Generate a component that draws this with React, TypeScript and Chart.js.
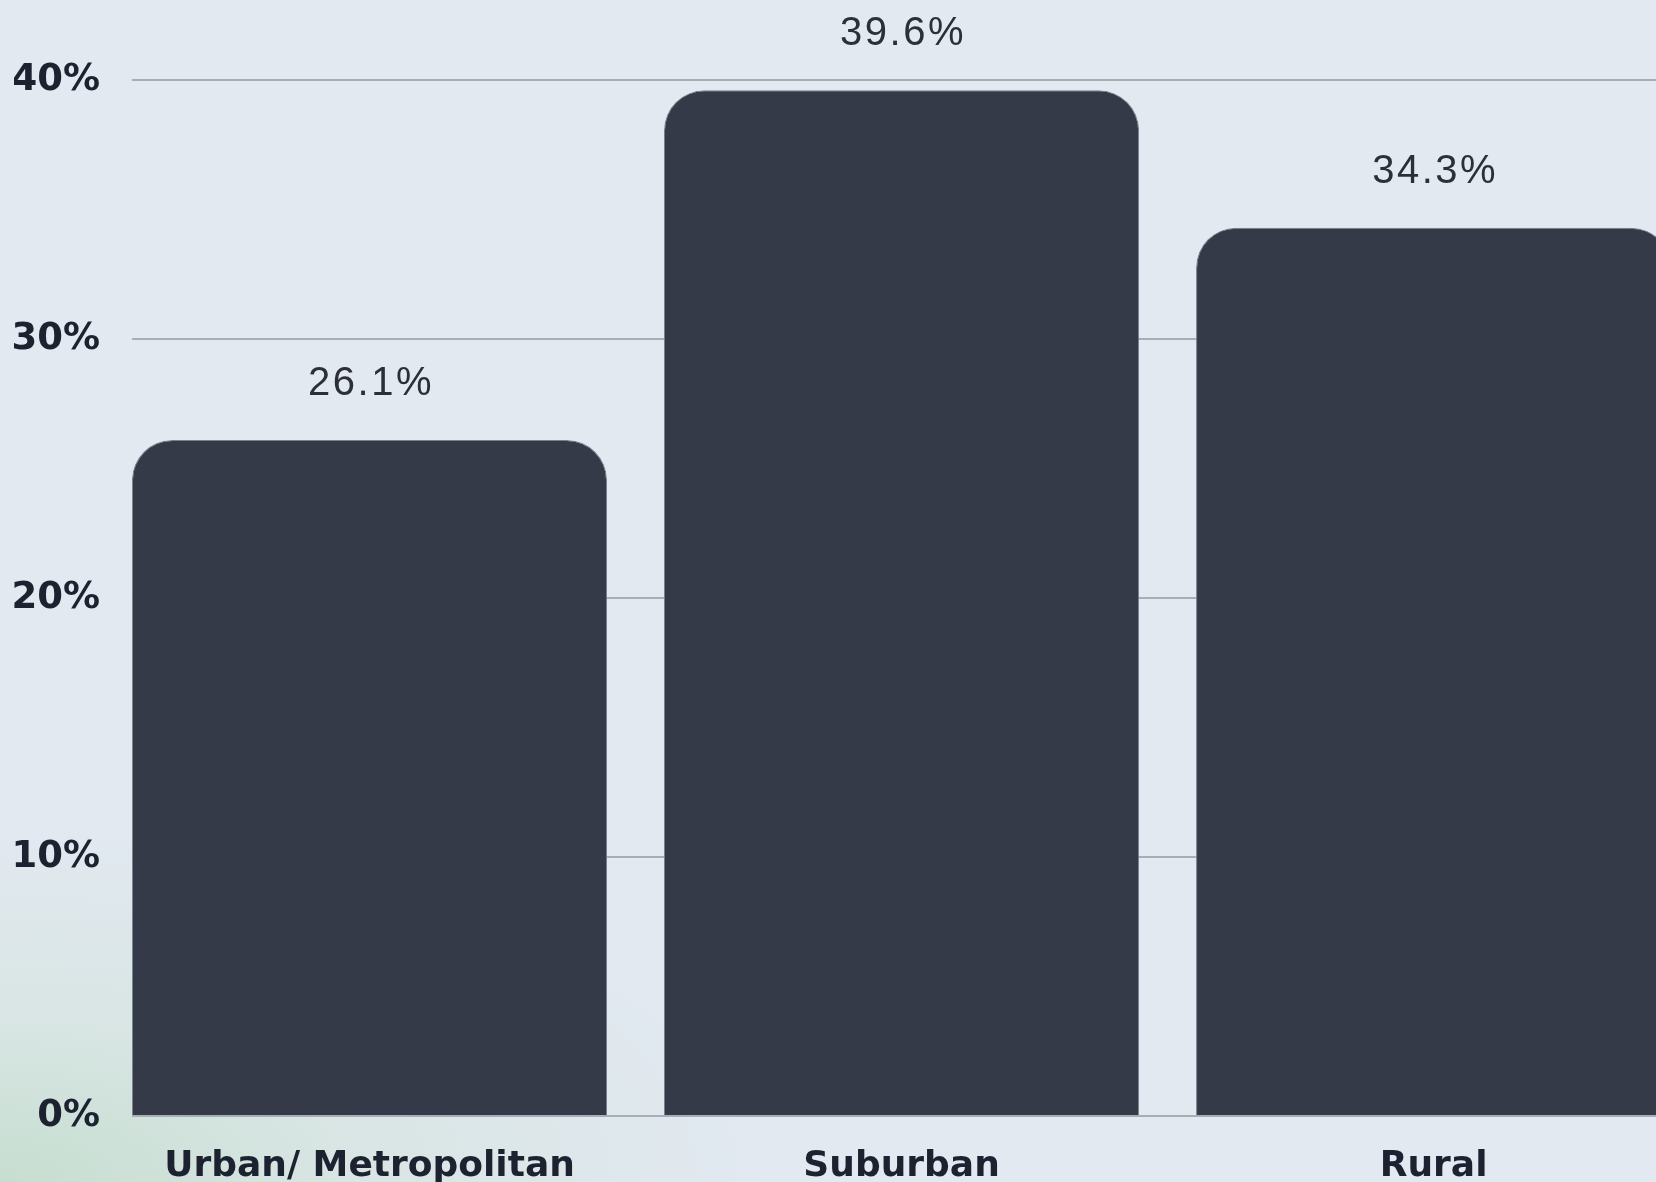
import React, { useEffect, useRef } from 'react';
import { Chart, registerables } from 'chart.js';

Chart.register(...registerables);

const categories = ['Urban/ Metropolitan', 'Suburban', 'Rural'];
const positions = [0, 1, 2];
const values = [26.1, 39.6, 34.3];
const yTicks = [0, 10, 20, 30, 40];

export default function App() {
  const ref = useRef<HTMLCanvasElement>(null);

  useEffect(() => {
    const valueLabels = {
      id: 'valueLabels',
      afterDatasetsDraw(chart: any) {
        const ctx = chart.ctx;
        const meta = chart.getDatasetMeta(0);
        ctx.save();
        ctx.font = '40px "Liberation Sans", Arial, sans-serif';
        (ctx as any).letterSpacing = '2.5px';
        ctx.fillStyle = '#2b2f38';
        ctx.textAlign = 'center';
        ctx.textBaseline = 'middle';
        meta.data.forEach((bar: any, i: number) => {
          ctx.fillText(values[i].toFixed(1) + '%', bar.x + 1.5, bar.y - 56);
        });
        ctx.restore();
      },
    };

    const chart = new Chart(ref.current!, {
      type: 'bar',
      data: {
        datasets: [
          {
            data: positions.map((x, i) => ({ x, y: values[i] })),
            backgroundColor: '#343a47',
            borderColor: '#7a808b',
            borderWidth: 1,
            borderSkipped: 'start',
            borderRadius: { topLeft: 40, topRight: 40, bottomLeft: 0, bottomRight: 0 },
            categoryPercentage: 1,
            barPercentage: 0.893,
          } as any,
        ],
      },
      options: {
        animation: false,
        responsive: true,
        maintainAspectRatio: false,
        layout: { padding: { top: 80, left: 14, right: 0, bottom: 0 } },
        plugins: { legend: { display: false }, tooltip: { enabled: false } },
        scales: {
          x: {
            type: 'linear',
            offset: false,
            min: -0.4464,
            max: 2.418,
            grid: { display: false, drawTicks: false },
            border: { display: false },
            afterBuildTicks: (s: any) => {
              s.ticks = positions.map((v) => ({ value: v }));
            },
            afterFit: (s: any) => {
              s.height = 66;
              s.paddingLeft = 0;
              s.paddingRight = 0;
            },
            ticks: {
              autoSkip: false,
              maxRotation: 0,
              minRotation: 0,
              padding: 29,
              color: '#1c2230',
              font: { family: '"DejaVu Sans", sans-serif', size: 36, weight: 'bold' },
              callback: (v: any) => {
                const idx = positions.indexOf(Number(v));
                return idx >= 0 ? categories[idx] : '';
              },
            },
          },
          y: {
            min: 0,
            max: 40,
            afterBuildTicks: (s: any) => {
              s.ticks = yTicks.map((v) => ({ value: v }));
            },
            afterFit: (s: any) => {
              s.width = 118;
              s.paddingTop = 0;
              s.paddingBottom = 0;
            },
            grid: { color: '#a9aeb6', lineWidth: 2, drawTicks: false },
            border: { display: false },
            ticks: {
              padding: 32,
              color: '#1c2230',
              font: { family: '"DejaVu Sans", sans-serif', size: 37, weight: 'bold' },
              callback: (v: any) => v + '%',
            },
          },
        },
      } as any,
      plugins: [valueLabels],
    });
    return () => chart.destroy();
  }, []);

  return (
    <div
      style={{
        position: 'fixed',
        left: 0,
        top: 0,
        width: 1656,
        height: 1182,
        overflow: 'hidden',
        background:
          'radial-gradient(ellipse 46% 30% at 0% 100%, rgba(198,222,208,1) 0%, rgba(212,228,222,0.7) 45%, rgba(226,233,241,0) 100%), #e2e9f1',
      }}
    >
      <canvas ref={ref} />
    </div>
  );
}
